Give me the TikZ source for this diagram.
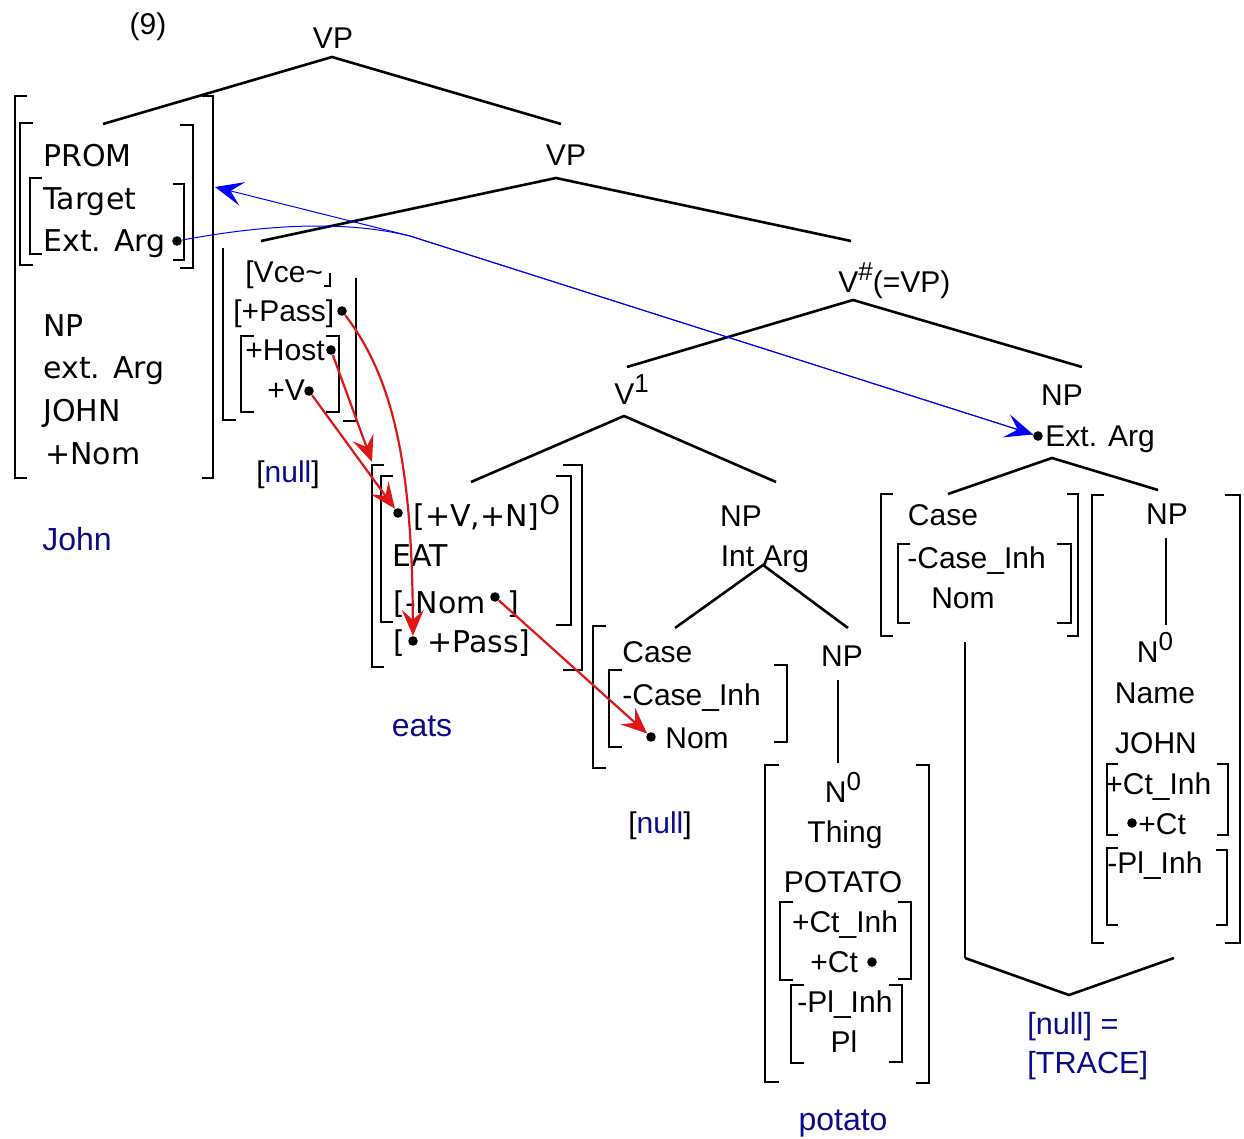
\documentclass[tikz,border=0pt]{standalone}
\usepackage{fontspec}
\setmainfont{Liberation Sans}
\newfontfamily\avmfont{DejaVu Sans}
\usepackage{tikz}
\usetikzlibrary{arrows.meta}
\definecolor{navy}{HTML}{0B0B8C}
\definecolor{linkblue}{HTML}{0000FF}
\definecolor{movered}{HTML}{E01515}
\newcommand{\up}[1]{\raisebox{6pt}{\fontsize{13}{13}\selectfont #1}}

\begin{document}
\begin{tikzpicture}[x=0.5pt,y=-0.5pt,font=\fontsize{15}{18}\selectfont,
  lbl/.style={inner sep=0pt,anchor=base},
  lblw/.style={inner sep=0pt,anchor=base west},
  avm/.style={font=\avmfont\fontsize{15}{18}\selectfont},
  gloss/.style={text=navy,font=\fontsize{16}{19}\selectfont},
  dot/.style={circle,fill=black,inner sep=0pt,minimum size=4.8pt},
  branch/.style={line width=1.3pt},
  brk/.style={line width=1.2pt},
  stem/.style={line width=1pt},
  move/.style={draw=movered,line width=1.1pt,-{Stealth[length=13pt,width=11pt,inset=5pt]}},
  bind/.style={draw=linkblue,line width=0.5pt,-{Stealth[length=14pt,width=12pt,inset=6pt]}}]
  \useasboundingbox (0,0) rectangle (1244,1139);

  % tree
  \node[lbl] (num) at (148,35) {(9)};
  \node[lbl] (vpTop) at (333,49) {VP};
  \node[lbl] (vpMid) at (566,166) {VP};
  \node[lblw] (vSharp) at (838,293) {V\up{\#}(=VP)};
  \node[lblw] (vOne) at (614,405) {V\up{1}};
  \coordinate (vpTopB) at (332,57);  \coordinate (avmT) at (103,124);  \coordinate (vpMidT) at (561,124);
  \coordinate (vpMidB) at (556,178); \coordinate (vceT) at (261,241);  \coordinate (vSharpT) at (851,241);
  \coordinate (vSharpB) at (853,300); \coordinate (vOneT) at (627,367); \coordinate (npExtT) at (1082,367);
  \coordinate (vOneB) at (624,416);  \coordinate (eatT) at (471,482);  \coordinate (npIntT) at (776,482);
  \coordinate (npIntB) at (763,565); \coordinate (caseIntT) at (675,628); \coordinate (npThT) at (848,628);
  \coordinate (npExtB) at (1052,458); \coordinate (caseExtT) at (948,494); \coordinate (npJT) at (1158,490);
  \draw[branch] (avmT) -- (vpTopB) -- (vpMidT);
  \draw[branch] (vceT) -- (vpMidB) -- (vSharpT);
  \draw[branch] (vOneT) -- (vSharpB) -- (npExtT);
  \draw[branch] (eatT) -- (vOneB) -- (npIntT);
  \draw[branch] (caseIntT) -- (npIntB) -- (npThT);
  \draw[branch] (caseExtT) -- (npExtB) -- (npJT);

  % brackets
  \foreach \x/\a/\b/\t in {15/96/478/12, 20/123/265/13, 30/178/254/12, 241/336/412/13,
      372/465/667/12, 381/476/622/12, 593/626/768/13, 609/670/747/13, 765/765/1082/14,
      780/902/980/13, 791/985/1063/13, 881/494/636/12, 898/544/623/12, 1092/495/943/12,
      1107/764/835/11, 1107/848/925/11}
    \draw[brk] (\x+\t,\a) -- (\x,\a) -- (\x,\b) -- (\x+\t,\b);
  \foreach \x/\a/\b/\t in {213/96/478/11, 193/125/268/13, 184/184/260/11, 339/336/412/13,
      582/465/670/19, 571/476/625/15, 787/665/742/13, 929/765/1083/13, 911/902/979/13,
      902/985/1062/13, 1078/494/636/11, 1071/544/623/14, 1240/495/943/15,
      1228/764/835/11, 1227/850/925/11}
    \draw[brk] (\x-\t,\a) -- (\x,\a) -- (\x,\b) -- (\x-\t,\b);
  \draw[brk] (223,248) -- (223,420) -- (236,420);
  \draw[brk] (356,278) -- (356,421) -- (343,421);
  \draw[stem] (330,273) -- (330,286) -- (324,286);

  % John
  \node[lblw,avm] (prom) at (43,167) {PROM};
  \node[lblw,avm] (target) at (43,210) {Target};
  \node[lblw,avm] (extArgL) at (43,252) {Ext. Arg};
  \node[dot] (extL) at (177,241) {};
  \node[lblw,avm] (npJohn) at (43,337) {NP};
  \node[lblw,avm] (extArgJ) at (43,379) {ext. Arg};
  \node[lblw,avm] (johnCap) at (43,422) {JOHN};
  \node[lblw,avm] (nomJ) at (45,465) {+Nom};
  \node[lblw,gloss] (john) at (42,551) {John};

  % voice head
  \node[lblw] (vce) at (245,283) {[Vce\textasciitilde};
  \node[lblw] (pass) at (233,322) {[+Pass]};
  \node[dot] (passDot) at (342,311) {};
  \node[lblw] (host) at (245,361) {+Host};
  \node[dot] (hostDot) at (331,350) {};
  \node[lblw] (plusV) at (267,401) {+V};
  \node[dot] (vDot) at (309,391) {};
  \node[lbl] (nullVce) at (288,483) {[{\color{navy}null}]};

  % eats
  \node[dot] (eatVDot) at (398,513) {};
  \node[lblw,avm] (vn) at (413,527) {[+V,+N]\up{O}};
  \node[lblw,avm] (eat) at (392,567) {EAT};
  \node[lblw,avm] (minusNom) at (393,613) {[-Nom};
  \node[dot] (nomDot) at (495,597) {};
  \node[lblw,avm] (nomBr) at (507,613) {]};
  \node[lblw,avm] (passBr) at (393,653) {[};
  \node[dot] (eatPassDot) at (413,641) {};
  \node[lblw,avm] (eatPass) at (427,653) {+Pass]};
  \node[lbl,gloss] (eats) at (422,736) {eats};

  % internal argument
  \node[lbl] (npInt) at (741,527) {NP};
  \node[lbl] (intArg) at (765,567) {Int Arg};
  \node[lblw] (caseI) at (622,662) {Case};
  \node[lblw] (caseInhI) at (622,705) {-Case\_Inh};
  \node[dot] (caseNomDot) at (651,737) {};
  \node[lblw] (nomI) at (665,748) {Nom};
  \node[lbl] (nullCase) at (660,833) {[{\color{navy}null}]};
  \node[lbl] (npTh) at (842,667) {NP};
  \coordinate (npThS) at (838,680); \coordinate (nThT) at (838,763);
  \draw[stem] (npThS) -- (nThT);
  \node[lbl] (nZeroTh) at (843,802) {N\up{0}};
  \node[lbl] (thing) at (845,842) {Thing};
  \node[lbl] (potatoCap) at (843,892) {POTATO};
  \node[lbl] (ctInhTh) at (845,932) {+Ct\_Inh};
  \node[lblw] (ctTh) at (810,972) {+Ct};
  \node[dot] (ctThDot) at (872,962) {};
  \node[lblw] (plInhTh) at (797,1012) {-Pl\_Inh};
  \node[lbl] (plTh) at (844,1052) {Pl};
  \node[lbl,gloss] (potato) at (843,1130) {potato};

  % external argument
  \node[lbl] (npExt) at (1062,406) {NP};
  \node[dot] (extR) at (1038,436) {};
  \node[lblw] (extArgR) at (1045,447) {Ext. Arg};
  \node[lbl] (caseE) at (943,525) {Case};
  \node[lblw] (caseInhE) at (907,568) {-Case\_Inh};
  \node[lbl] (nomE) at (963,609) {Nom};
  \node[lbl] (npJ) at (1167,524) {NP};
  \coordinate (npJS) at (1166,538); \coordinate (nJT) at (1166,625);
  \draw[stem] (npJS) -- (nJT);
  \node[lbl] (nZeroJ) at (1155,662) {N\up{0}};
  \node[lbl] (name) at (1155,703) {Name};
  \node[lbl] (johnJ) at (1156,753) {JOHN};
  \node[lblw] (ctInhJ) at (1105,794) {+Ct\_Inh};
  \node[dot] (ctJDot) at (1132,823) {};
  \node[lblw] (ctJ) at (1138,834) {+Ct};
  \node[lblw] (plInhJ) at (1107,873) {-Pl\_Inh};

  % trace
  \coordinate (trTop) at (965,642); \coordinate (trL) at (965,958);
  \coordinate (trB) at (1069,995); \coordinate (trR) at (1174,958);
  \draw[line width=0.6pt] (trTop) -- (trL);
  \draw[branch] (trL) -- (trB) -- (trR);
  \node[lblw,gloss,font=\fontsize{15.3}{18}\selectfont] (nullTr) at (1027,1034) {[null] =};
  \node[lblw,gloss,font=\fontsize{15.3}{18}\selectfont] (traceTr) at (1027,1073) {[TRACE]};

  % feature movement
  \coordinate (hostTip) at (372,462);
  \draw[move] (passDot) .. controls (395,380) and (412,470) .. (eatPassDot);
  \draw[move] (hostDot) -- (hostTip);
  \draw[move] (vDot) -- (eatVDot);
  \draw[move] (nomDot) -- (caseNomDot);

  % binding
  \coordinate (bindJ) at (410,236);
  \coordinate (promEdge) at (215,187);
  \draw[bind] (extL) .. controls (290,220) and (360,224) .. (bindJ) -- (extR);
  \draw[bind] (extR) -- (bindJ) -- (promEdge);
\end{tikzpicture}
\end{document}
